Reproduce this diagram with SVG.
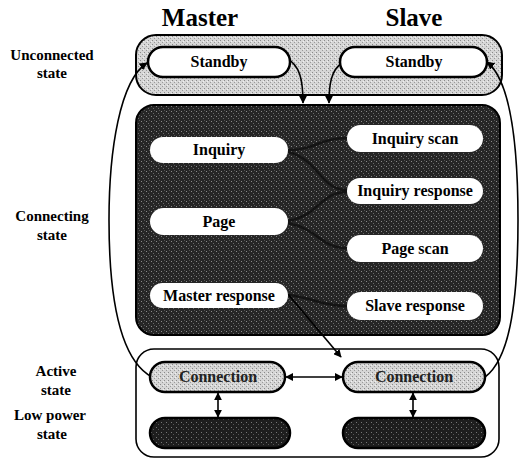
<svg xmlns="http://www.w3.org/2000/svg" width="524" height="461" viewBox="0 0 524 461">
<style>
.lbl{font-family:"Liberation Serif","Times New Roman",serif;font-weight:bold;font-size:15px;fill:#000;text-anchor:middle}
.ttl{font-family:"Liberation Serif","Times New Roman",serif;font-weight:bold;font-size:25px;fill:#000;text-anchor:middle}
.nt{font-family:"Liberation Serif","Times New Roman",serif;font-weight:bold;font-size:16px;fill:#000;text-anchor:middle}
.ct{font-family:"Liberation Serif","Times New Roman",serif;font-weight:bold;font-size:16px;fill:#222;text-anchor:middle}
.white{fill:#fff;stroke:#000;stroke-width:2.5}
.wnode{fill:#fff;stroke:none}
.gnode{fill:url(#light);stroke:#000;stroke-width:2.5}
.dnode{fill:url(#dark2);stroke:#000;stroke-width:2.5}
.conn{fill:none;stroke:#000;stroke-width:1.6}
.inner{fill:none;stroke:#141414;stroke-width:2.5}
</style>
<defs>
<pattern id="light" width="4" height="4" patternUnits="userSpaceOnUse">
<rect width="4" height="4" fill="#d6d6d6"/>
<rect x="0" y="0" width="1" height="1" fill="#8a8a8a"/>
<rect x="2" y="2" width="1" height="1" fill="#9a9a9a"/>
<rect x="3" y="1" width="1" height="1" fill="#f0f0f0"/>
</pattern>
<pattern id="dark" width="5" height="5" patternUnits="userSpaceOnUse">
<rect width="5" height="5" fill="#262626"/>
<rect x="1" y="1" width="1" height="1" fill="#8a8a8a"/>
<rect x="3" y="3" width="1" height="1" fill="#6a6a6a"/>
<rect x="4" y="0" width="1" height="1" fill="#555"/>
</pattern>
<pattern id="dark2" width="5" height="5" patternUnits="userSpaceOnUse">
<rect width="5" height="5" fill="#1e1e1e"/>
<rect x="1" y="2" width="1" height="1" fill="#777"/>
<rect x="3" y="4" width="1" height="1" fill="#555"/>
</pattern>
<marker id="ah" viewBox="0 0 10 10" refX="9" refY="5" markerWidth="8" markerHeight="8" markerUnits="userSpaceOnUse" orient="auto-start-reverse">
<path d="M0,0 L10,5 L0,10 z" fill="#000"/>
</marker>
</defs>

<g id="titles">
<text class="ttl" x="200" y="26">Master</text>
<text class="ttl" x="414" y="26">Slave</text>
</g>

<g id="state-labels">
<text class="lbl" x="52" y="60">Unconnected</text>
<text class="lbl" x="52" y="78">state</text>
<text class="lbl" x="52" y="221">Connecting</text>
<text class="lbl" x="52" y="240">state</text>
<text class="lbl" x="56" y="376">Active</text>
<text class="lbl" x="56" y="395">state</text>
<text class="lbl" x="50" y="420">Low power</text>
<text class="lbl" x="52" y="439">state</text>
</g>

<g id="unconnected-region">
<rect x="136" y="35" width="366" height="60" rx="20" fill="url(#light)" stroke="#000" stroke-width="2"/>
</g>
<g id="connecting-region">
<rect x="136" y="105" width="364" height="230" rx="18" fill="url(#dark)" stroke="#000" stroke-width="2"/>
</g>
<g id="active-region">
<rect x="136" y="349" width="363" height="108" rx="18" fill="#fff" stroke="#000" stroke-width="1.6"/>
</g>

<g id="connectors">
<path class="inner" d="M288,150 C315,150 320,138 347,138"/>
<path class="inner" d="M288,152 C320,160 320,190 347,190"/>
<path class="inner" d="M288,221 C320,215 320,192 347,192"/>
<path class="inner" d="M288,223 C320,230 320,248 347,248"/>
<path class="inner" d="M288,295 C315,298 320,306 347,306"/>
<path class="conn" d="M287,293 L341,357" marker-end="url(#ah)"/>
<path class="conn" d="M286,58 C300,65 303,80 303,103" marker-end="url(#ah)"/>
<path class="conn" d="M342,63 C331,70 329,85 329,103" marker-end="url(#ah)"/>
<path class="conn" d="M152,377 C120,360 109,300 109,220 C109,150 120,80 147,63" marker-end="url(#ah)"/>
<path class="conn" d="M485,377 C508,360 518,310 518,220 C518,140 510,80 487,62" marker-end="url(#ah)"/>
<path class="conn" d="M286,377 L342,377" marker-start="url(#ah)" marker-end="url(#ah)"/>
<path class="conn" d="M218,393 L218,417" marker-start="url(#ah)" marker-end="url(#ah)"/>
<path class="conn" d="M413,393 L413,417" marker-start="url(#ah)" marker-end="url(#ah)"/>
</g>

<g id="master-standby">
<rect class="white" x="148" y="47" width="142" height="30" rx="15"/>
<text class="nt" x="219" y="67">Standby</text>
</g>
<g id="slave-standby">
<rect class="white" x="340" y="47" width="147" height="30" rx="15"/>
<text class="nt" x="414" y="67">Standby</text>
</g>

<g id="inquiry">
<rect class="wnode" x="150" y="137" width="138" height="26" rx="13"/>
<text class="nt" x="219" y="155">Inquiry</text>
</g>
<g id="inquiry-scan">
<rect class="wnode" x="347" y="125" width="136" height="27" rx="13.5"/>
<text class="nt" x="415" y="144">Inquiry scan</text>
</g>
<g id="inquiry-response">
<rect class="wnode" x="347" y="178" width="136" height="26" rx="13"/>
<text class="nt" x="415" y="196">Inquiry response</text>
</g>
<g id="page">
<rect class="wnode" x="150" y="208" width="138" height="27" rx="13.5"/>
<text class="nt" x="219" y="227">Page</text>
</g>
<g id="page-scan">
<rect class="wnode" x="347" y="235" width="136" height="27" rx="13.5"/>
<text class="nt" x="415" y="254">Page scan</text>
</g>
<g id="master-response">
<rect class="wnode" x="150" y="283" width="138" height="25" rx="12.5"/>
<text class="nt" x="219" y="301">Master response</text>
</g>
<g id="slave-response">
<rect class="wnode" x="347" y="292" width="136" height="28" rx="14"/>
<text class="nt" x="415" y="311">Slave response</text>
</g>

<g id="master-connection">
<rect class="gnode" x="150" y="362" width="135" height="30" rx="15"/>
<text class="ct" x="218" y="382">Connection</text>
</g>
<g id="slave-connection">
<rect class="gnode" x="343" y="362" width="142" height="30" rx="15"/>
<text class="ct" x="414" y="382">Connection</text>
</g>
<g id="master-lowpower">
<rect class="dnode" x="150" y="418" width="140" height="30" rx="15"/>
</g>
<g id="slave-lowpower">
<rect class="dnode" x="343" y="418" width="142" height="30" rx="15"/>
</g>
</svg>
